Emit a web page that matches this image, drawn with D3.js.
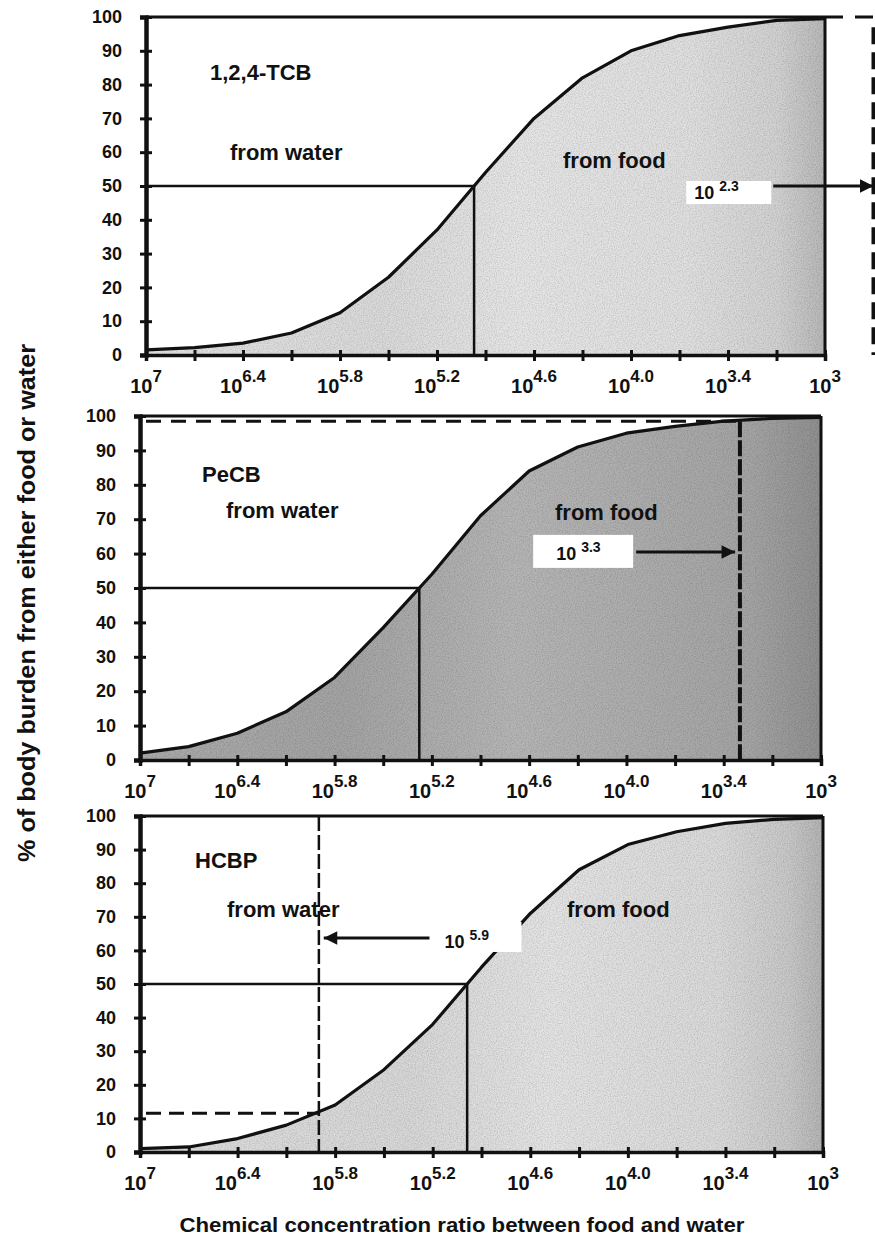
<!DOCTYPE html>
<html>
<head>
<meta charset="utf-8">
<script src="https://d3js.org/d3.v7.min.js"></script>
<style>
  body { margin: 0; background: #fff; }
  svg text { font-family: "Liberation Sans", Arial, sans-serif; font-weight: bold; fill: #111; }
</style>
</head>
<body>
<svg id="chart"></svg>
<script>
// log10 of the food/water concentration ratio, one per category on the x axis
var xCats = [7, 6.7, 6.4, 6.1, 5.8, 5.5, 5.2, 4.9, 4.6, 4.3, 4.0, 3.7, 3.4, 3.1, 2.8];
var xLabelCats = [7, 6.4, 5.8, 5.2, 4.6, 4.0, 3.4, 2.8];
var xLabelText = ['7', '6.4', '5.8', '5.2', '4.6', '4.0', '3.4', '3'];
var yTicks = [0, 10, 20, 30, 40, 50, 60, 70, 80, 90, 100];

// % of body burden from food
var tcbValues  = [1.5, 2.2, 3.5, 6.5, 12.5, 23, 37, 54, 70, 82, 90, 94.5, 97, 99, 99.5];
var pecbValues = [2, 3.9, 7.8, 14, 24, 38.5, 54, 71, 84, 91, 95, 97, 98.5, 99.3, 99.6];
var hcbpValues = [1, 1.5, 4, 8, 14, 24.5, 38, 55, 71, 84, 91.5, 95.3, 97.8, 99, 99.5];

var names = ['1,2,4-TCB', 'PeCB', 'HCBP'];
// marker ratio (log10) and label, arrow from/to (log10) and arrow height (%)
var markerLog  = [2.5, 3.3, 5.9];
var markerText = ['2.3', '3.3', '5.9'];
var markerPct  = [100, 98.5, 11.5];
var arrowFrom  = [3.12, 3.94, 5.22];
var arrowTo    = [2.5, 3.33, 5.87];
var arrowPct   = [50, 60.5, 63.7];

var series = [tcbValues, pecbValues, hcbpValues];

var W = 875, H = 1244;
var svg = d3.select('#chart').attr('width', W).attr('height', H);
svg.append('rect').attr('width', W).attr('height', H).attr('fill', '#fff');

var defs = svg.append('defs');
defs.append('marker')
    .attr('id', 'arrow')
    .attr('viewBox', '0 0 10 10')
    .attr('refX', 10).attr('refY', 5)
    .attr('markerWidth', 7).attr('markerHeight', 4.5)
    .attr('markerUnits', 'strokeWidth')
    .attr('orient', 'auto')
  .append('path')
    .attr('d', 'M0,0 L10,5 L0,10 Z')
    .attr('fill', '#111');

// photocopy grain on the shaded areas
var grain = defs.append('filter').attr('id', 'grain')
    .attr('x', 0).attr('y', 0).attr('width', 1).attr('height', 1);
grain.append('feTurbulence').attr('type', 'fractalNoise')
    .attr('baseFrequency', 0.85).attr('numOctaves', 2).attr('seed', 3).attr('result', 'n');
grain.append('feColorMatrix').attr('in', 'n').attr('type', 'matrix')
    .attr('values', '0 0 0 0 0  0 0 0 0 0  0 0 0 0 0  0.6 0 0 0 -0.22').attr('result', 'a');
grain.append('feComposite').attr('in', 'a').attr('in2', 'SourceGraphic')
    .attr('operator', 'in').attr('result', 'b');
var merge = grain.append('feMerge');
merge.append('feMergeNode').attr('in', 'SourceGraphic');
merge.append('feMergeNode').attr('in', 'b');

// panel layout (pixels)
var panels = [
  { left: 146, right: 825, top: 17, bottom: 355,
    nameXY: [210, 80], waterXY: [230, 160], foodXY: [563, 168],
    box: [-87, -5, 85, 23], tenDx: -79, tenDy: 13, supDy: 5,
    stops: [[0, '#e2e2e2'], [0.35, '#dadada'], [0.55, '#e6e6e6'], [0.8, '#e0e0e0'], [0.93, '#d2d2d2'], [1, '#b8b8b8']] },
  { left: 140, right: 821, top: 416, bottom: 760,
    nameXY: [202, 482], waterXY: [226, 518], foodXY: [555, 520],
    box: [-103, -17, 100, 33], tenDx: -80, tenDy: 8, supDy: 0,
    stops: [[0, '#aaaaaa'], [0.3, '#a4a4a4'], [0.55, '#b6b6b6'], [0.72, '#aeaeae'], [0.9, '#a4a4a4'], [1, '#909090']] },
  { left: 140, right: 823, top: 816, bottom: 1152,
    nameXY: [195, 868], waterXY: [227, 917], foodXY: [567, 917],
    box: [5, -16, 87, 30], tenDx: 15, tenDy: 10, supDy: 2,
    stops: [[0, '#dcdcdc'], [0.4, '#d8d8d8'], [0.6, '#e4e4e4'], [0.85, '#dadada'], [0.95, '#c8c8c8'], [1, '#b4b4b4']] }
];

// where a series crosses 50 %
function halfPoint(vals) {
  for (var i = 1; i < vals.length; i++) {
    if (vals[i] >= 50) {
      var t = (50 - vals[i-1]) / (vals[i] - vals[i-1]);
      return xCats[i-1] + t * (xCats[i] - xCats[i-1]);
    }
  }
  return xCats[xCats.length - 1];
}

panels.forEach(function(p, k) {
  var vals = series[k];
  var x = d3.scaleLinear().domain([7, 2.8]).range([p.left, p.right]);
  var y = d3.scaleLinear().domain([0, 100]).range([p.bottom, p.top]);
  var g = svg.append('g');

  var grad = defs.append('linearGradient')
      .attr('id', 'fill' + k)
      .attr('gradientUnits', 'userSpaceOnUse')
      .attr('x1', p.left).attr('x2', p.right).attr('y1', 0).attr('y2', 0);
  p.stops.forEach(function(s) {
    grad.append('stop').attr('offset', s[0]).attr('stop-color', s[1]);
  });

  var pts = xCats.map(function(c, i) { return [c, vals[i]]; });

  g.append('path')
      .datum(pts)
      .attr('fill', 'url(#fill' + k + ')')
      .attr('filter', 'url(#grain)')
      .attr('d', d3.area()
        .x(function(d) { return x(d[0]); })
        .y0(y(0))
        .y1(function(d) { return y(d[1]); }));

  // frame
  g.append('line').attr('x1', p.left).attr('x2', p.right).attr('y1', p.top).attr('y2', p.top)
      .attr('stroke', '#111').attr('stroke-width', 3);
  g.append('line').attr('x1', p.right).attr('x2', p.right).attr('y1', p.top).attr('y2', p.bottom)
      .attr('stroke', '#111').attr('stroke-width', 3);

  // 50% guides
  var h = halfPoint(vals);
  g.append('polyline')
      .attr('points', [[x(7), y(50)], [x(h), y(50)], [x(h), y(0)]].join(' '))
      .attr('fill', 'none').attr('stroke', '#111').attr('stroke-width', 2.5);

  // curve
  g.append('path')
      .datum(pts)
      .attr('fill', 'none').attr('stroke', '#111').attr('stroke-width', 3.2)
      .attr('stroke-linejoin', 'round')
      .attr('d', d3.line()
        .x(function(d) { return x(d[0]); })
        .y(function(d) { return y(d[1]); }));

  // dashed marker lines
  var mx = x(markerLog[k]), my = y(markerPct[k]);
  if (k === 0) {
    g.append('line').attr('x1', x(2.8)).attr('x2', mx).attr('y1', my).attr('y2', my)
        .attr('stroke', '#111').attr('stroke-width', 3).attr('stroke-dasharray', '18,12');
    g.append('line').attr('x1', mx).attr('x2', mx).attr('y1', y(97)).attr('y2', y(0))
        .attr('stroke', '#111').attr('stroke-width', 4).attr('stroke-dasharray', '17,8');
  } else {
    var vdash = k === 1 ? '16,3' : '15,4';
    var hdash = k === 1 ? '15,10' : '15,8';
    g.append('line').attr('x1', x(7) + 6).attr('x2', mx).attr('y1', my).attr('y2', my)
        .attr('stroke', '#111').attr('stroke-width', 3).attr('stroke-dasharray', hdash);
    g.append('line').attr('x1', mx).attr('x2', mx)
        .attr('y1', k === 1 ? my : y(100)).attr('y2', y(0))
        .attr('stroke', '#111').attr('stroke-width', k === 1 ? 4 : 2.5).attr('stroke-dasharray', vdash);
  }

  // label box + arrow
  var ax = x(arrowFrom[k]), ay = y(arrowPct[k]);
  g.append('rect')
      .attr('x', ax + p.box[0]).attr('y', ay + p.box[1])
      .attr('width', p.box[2]).attr('height', p.box[3])
      .attr('fill', '#fff');
  var lab = g.append('text')
      .attr('x', ax + p.tenDx).attr('y', ay + p.tenDy)
      .style('font-size', '18px');
  lab.append('tspan').text('10 ');
  lab.append('tspan').attr('dy', p.supDy - p.tenDy).style('font-size', '14px').text(markerText[k]);
  g.append('line')
      .attr('x1', ax).attr('x2', x(arrowTo[k])).attr('y1', ay).attr('y2', ay)
      .attr('stroke', '#111').attr('stroke-width', 3)
      .attr('marker-end', 'url(#arrow)');

  // axes
  var yAxis = g.append('g')
      .attr('transform', 'translate(' + p.left + ',0)')
      .call(d3.axisLeft(y).tickValues(yTicks).tickSize(6).tickPadding(18));
  yAxis.select('.domain').attr('stroke', '#111').attr('stroke-width', 4.5);
  yAxis.selectAll('.tick line').attr('x1', -6).attr('x2', 6).attr('stroke', '#111').attr('stroke-width', 3);
  yAxis.selectAll('.tick text')
      .style('font-size', '18px').style('font-family', '"Liberation Sans", Arial, sans-serif')
      .style('font-weight', 'bold').attr('fill', '#111');

  var xAxis = g.append('g')
      .attr('transform', 'translate(0,' + p.bottom + ')')
      .call(d3.axisBottom(x).tickValues(xCats).tickSize(6).tickFormat(''));
  xAxis.select('.domain').attr('stroke', '#111').attr('stroke-width', 3.5);
  xAxis.selectAll('.tick line').attr('y1', -5).attr('y2', 6).attr('stroke', '#111').attr('stroke-width', 3);

  var xl = g.selectAll('.xlab' + k)
      .data(xLabelCats)
      .enter().append('text')
      .attr('class', 'xlab' + k)
      .attr('x', function(d) { return x(d); })
      .attr('y', p.bottom + 38)
      .attr('text-anchor', 'middle')
      .style('font-size', '20px');
  xl.append('tspan').text('10');
  xl.append('tspan').attr('dy', -11).style('font-size', '17px')
      .text(function(d, i) { return xLabelText[i]; });

  // panel texts
  g.append('text').attr('x', p.nameXY[0]).attr('y', p.nameXY[1]).style('font-size', '22px').text(names[k]);
  g.append('text').attr('x', p.waterXY[0]).attr('y', p.waterXY[1]).style('font-size', '22px').text('from water');
  g.append('text').attr('x', p.foodXY[0]).attr('y', p.foodXY[1]).style('font-size', '22px').text('from food');
});

svg.append('text')
    .attr('transform', 'translate(35,603) rotate(-90)')
    .attr('text-anchor', 'middle')
    .attr('textLength', 518).attr('lengthAdjust', 'spacingAndGlyphs')
    .style('font-size', '23px')
    .text('% of body burden from either food or water');

svg.append('text')
    .attr('x', 462).attr('y', 1232)
    .attr('text-anchor', 'middle')
    .attr('textLength', 565).attr('lengthAdjust', 'spacingAndGlyphs')
    .style('font-size', '21px')
    .text('Chemical concentration ratio between food and water');
</script>
</body>
</html>
